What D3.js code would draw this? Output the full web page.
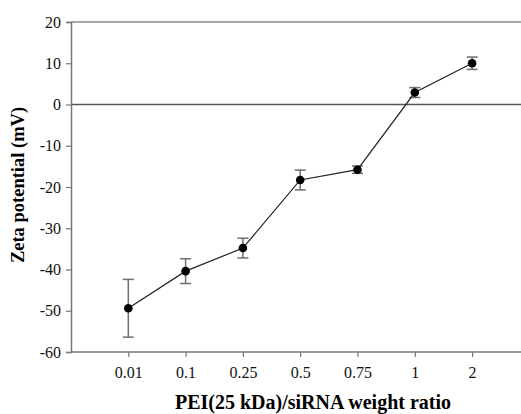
<!DOCTYPE html>
<html>
<head>
<meta charset="utf-8">
<script src="https://cdn.jsdelivr.net/npm/d3@7"></script>
<style>
  body { margin: 0; background: #fff; }
  svg { display: block; }
</style>
</head>
<body>
<svg id="chart"></svg>
<script>
// donnees
const ratios = ["0.01", "0.1", "0.25", "0.5", "0.75", "1", "2"];
const zeta = [-49.4, -40.4, -34.8, -18.3, -15.8, 2.9, 10.0];
const erreurs = [7.0, 3.0, 2.4, 2.4, 0.9, 1.2, 1.5];
const yTicks = [20, 10, 0, -10, -20, -30, -40, -50, -60];

const width = 521;
const height = 414;
const margeG = 71, hautY = 22, basY = 352;
const police = "'Liberation Serif', 'Times New Roman', serif";

const svg = d3.select("#chart")
    .attr("width", width)
    .attr("height", height)
    .style("font-family", police);

// l'axe x depasse a droite (figure rognee)
const x = d3.scalePoint()
    .domain(["", ...ratios, " "])
    .range([margeG, margeG + 57.3 * 8]);

const y = d3.scaleLinear()
    .domain([-60, 20])
    .range([basY, hautY]);

// cadre du haut
svg.append("line")
    .attr("x1", margeG).attr("x2", width)
    .attr("y1", y(20)).attr("y2", y(20))
    .attr("stroke", "#8a8a8a").attr("stroke-width", 1.5);

// ligne du zero
svg.append("line")
    .attr("x1", margeG).attr("x2", width)
    .attr("y1", y(0)).attr("y2", y(0))
    .attr("stroke", "#555").attr("stroke-width", 1.5);

// axe y
const yAxis = svg.append("g")
    .attr("transform", `translate(${margeG},0)`)
    .call(d3.axisLeft(y).tickValues(yTicks).tickSize(5).tickPadding(5)
        .tickFormat(d => String(d)));

// axe x
const xAxis = svg.append("g")
    .attr("transform", `translate(0,${basY})`)
    .call(d3.axisBottom(x).tickValues(ratios).tickSize(5).tickPadding(10).tickSizeOuter(0));

[yAxis, xAxis].forEach(g => {
    g.attr("font-family", police);
    g.select(".domain").attr("stroke", "#777").attr("stroke-width", 1.5);
    g.selectAll(".tick line").attr("stroke", "#777").attr("stroke-width", 1.2);
    g.selectAll(".tick text")
        .attr("fill", "#111")
        .style("font-size", "16px")
        .style("font-family", police);
});
xAxis.select(".domain").attr("d", `M${margeG},0H${width}`);

// barres d'erreur
const eb = svg.append("g")
    .selectAll("g")
    .data(ratios)
    .enter()
    .append("g")
    .attr("stroke", "#6e6e6e")
    .attr("stroke-width", 1.5);

eb.append("line")
    .attr("x1", d => x(d)).attr("x2", d => x(d))
    .attr("y1", (d, i) => y(zeta[i] + erreurs[i]))
    .attr("y2", (d, i) => y(zeta[i] - erreurs[i]));
eb.append("line")
    .attr("x1", d => x(d) - 5.5).attr("x2", d => x(d) + 5.5)
    .attr("y1", (d, i) => y(zeta[i] + erreurs[i]))
    .attr("y2", (d, i) => y(zeta[i] + erreurs[i]));
eb.append("line")
    .attr("x1", d => x(d) - 5.5).attr("x2", d => x(d) + 5.5)
    .attr("y1", (d, i) => y(zeta[i] - erreurs[i]))
    .attr("y2", (d, i) => y(zeta[i] - erreurs[i]));

// courbe
const line = d3.line()
    .x((d, i) => x(ratios[i]))
    .y(d => y(d));

svg.append("path")
    .datum(zeta)
    .attr("d", line)
    .attr("fill", "none")
    .attr("stroke", "#222")
    .attr("stroke-width", 1.2);

svg.append("g")
    .selectAll("circle")
    .data(zeta)
    .enter()
    .append("circle")
    .attr("cx", (d, i) => x(ratios[i]))
    .attr("cy", d => y(d))
    .attr("r", 4.3)
    .attr("fill", "#000");

// titres des axes
svg.append("text")
    .attr("x", 313)
    .attr("y", 409)
    .attr("text-anchor", "middle")
    .style("font-size", "20px")
    .style("font-weight", "bold")
    .text("PEI(25 kDa)/siRNA weight ratio");

svg.append("text")
    .attr("transform", "translate(24,185) rotate(-90)")
    .attr("text-anchor", "middle")
    .style("font-size", "18.5px")
    .style("font-weight", "bold")
    .text("Zeta potential (mV)");
</script>
</body>
</html>
